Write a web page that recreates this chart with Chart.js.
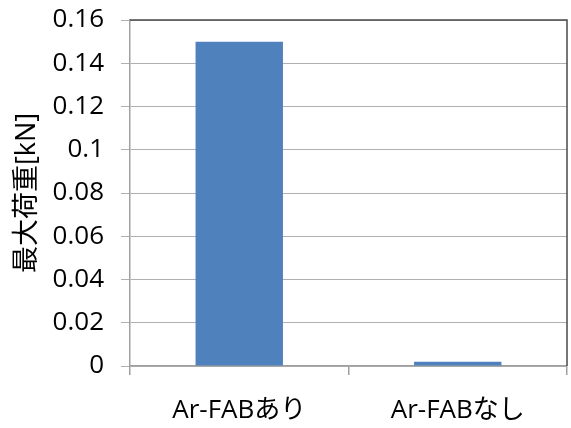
<!DOCTYPE html>
<html>
<head>
<meta charset="utf-8">
<script src="https://cdn.jsdelivr.net/npm/chart.js@4/dist/chart.umd.min.js"></script>
<style>
html,body{margin:0;padding:0;background:#fff;}
#wrap{width:571px;height:428px;position:relative;}
</style>
</head>
<body>
<div id="wrap"><canvas id="c" width="571" height="428"></canvas></div>
<script>
const categories = ['Ar-FABあり', 'Ar-FABなし'];
const maxLoad = [0.15, 0.002];
const yTickLabels = ['0', '0.02', '0.04', '0.06', '0.08', '0.1', '0.12', '0.14', '0.16'];
const yTitle = '最大荷重[kN]';

const frame = {
  id: 'frame',
  afterDatasetsDraw(chart) {
    const {ctx, chartArea: a} = chart;
    ctx.save();
    ctx.strokeStyle = '#4a4a4a';
    ctx.lineWidth = 1.5;
    ctx.beginPath();
    ctx.moveTo(a.left, a.top);
    ctx.lineTo(a.right, a.top);
    ctx.lineTo(a.right, a.bottom);
    ctx.stroke();
    ctx.restore();
  }
};

const FONT = '"Open Sans", "Noto Sans CJK JP", sans-serif';

new Chart(document.getElementById('c'), {
  type: 'bar',
  data: {
    labels: categories,
    datasets: [{
      data: maxLoad,
      backgroundColor: '#4f81bd',
      borderWidth: 0,
      categoryPercentage: 0.4,
      barPercentage: 1.0
    }]
  },
  options: {
    responsive: false,
    animation: false,
    devicePixelRatio: 1,
    layout: { padding: { left: 0, right: 4, top: 20, bottom: 0 } },
    plugins: { legend: { display: false }, tooltip: { enabled: false } },
    scales: {
      x: {
        offset: true,
        grid: { display: true, offset: true, drawOnChartArea: false, tickLength: 9, color: '#a0a0a0', lineWidth: 1.5 },
        border: { display: true, color: '#a0a0a0', width: 1.5 },
        ticks: { color: '#000', font: { family: FONT, size: 26 }, padding: 20, maxRotation: 0 },
        afterFit(s) { s.height = 62; s.paddingLeft = 0; s.paddingRight = 0; }
      },
      y: {
        min: 0, max: 0.16,
        ticks: {
          stepSize: 0.02,
          color: '#000',
          font: { family: FONT, size: 26 },
          padding: 17,
          callback: (v, i) => yTickLabels[i]
        },
        grid: { color: '#b0b0b0', lineWidth: 1, tickLength: 9 },
        border: { display: true, color: '#a0a0a0', width: 1.5 },
        title: { display: true, text: yTitle, color: '#000', font: { family: FONT, size: 27 }, padding: { top: 11, bottom: 0 } },
        afterFit(s) { s.width = 130; s.paddingTop = 0; s.paddingBottom = 0; }
      }
    }
  },
  plugins: [frame]
});
</script>
</body>
</html>
